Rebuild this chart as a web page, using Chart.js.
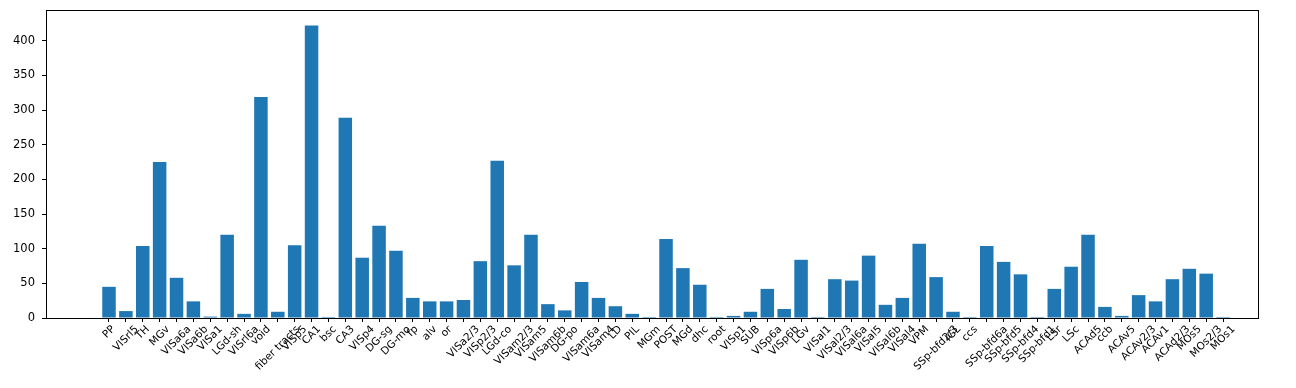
<!DOCTYPE html>
<html>
<head>
<meta charset="utf-8">
<script src="https://cdn.jsdelivr.net/npm/chart.js@4.4.1/dist/chart.umd.min.js"></script>
<style>
  html, body { margin: 0; padding: 0; background: #fff; }
  #wrap { width: 1296px; height: 388px; }
</style>
</head>
<body>
<div id="wrap"><canvas id="bar_chart" width="1296" height="388"></canvas></div>
<script>
// region names along the x axis
var regions = ["PP", "VISrl5", "TH", "MGv", "VISa6a", "VISa6b", "VISa1", "LGd-sh", "VISrl6a", "void",
    "fiber tracts", "VISp5", "CA1", "bsc", "CA3", "VISp4", "DG-sg", "DG-mo", "fp", "alv",
    "or", "VISa2/3", "VISp2/3", "LGd-co", "VISam2/3", "VISam5", "VISam6b", "DG-po", "VISam6a", "VISam4",
    "LD", "PIL", "MGm", "POST", "MGd", "dhc", "root", "VISp1", "SUB", "VISp6a",
    "VISp6b", "LGv", "VISal1", "VISal2/3", "VISal6a", "VISal5", "VISal6b", "VISal4", "VPM", "SSp-bfd2/3",
    "IGL", "ccs", "SSp-bfd6a", "SSp-bfd5", "SSp-bfd4", "SSp-bfd1", "LSr", "LSc", "ACAd5", "ccb",
    "ACAv5", "ACAv2/3", "ACAv1", "ACAd2/3", "MOs5", "MOs2/3", "MOs1"];

// counts per region
var counts = [45, 10, 104, 225, 58, 24, 2, 120, 6, 319,
    9, 105, 422, 1.5, 289, 87, 133, 97, 29, 24,
    24, 26, 82, 227, 76, 120, 20, 11, 52, 29,
    17, 6, 1.5, 114, 72, 48, 1.5, 3, 9, 42,
    13, 84, 1.5, 56, 54, 90, 19, 29, 107, 59,
    9, 1.5, 104, 81, 63, 1.5, 42, 74, 120, 16,
    3, 33, 24, 56, 71, 64, 1.5];

var yTicks = [0, 50, 100, 150, 200, 250, 300, 350, 400];

var fontFam = "'DejaVu Sans', sans-serif";

// box round the plot, like matplotlib spines
var frame = {
    id: "frame",
    afterDraw: function(chart){
        var a = chart.chartArea, c = chart.ctx;
        c.save();
        c.strokeStyle = "#000";
        c.lineWidth = 1;
        c.strokeRect(Math.round(a.left) + 0.5, Math.round(a.top) + 0.5,
            Math.round(a.right - a.left), Math.round(a.bottom - a.top));
        c.restore();
    }
};

// rotated x labels centred on their tick
var xLabels = {
    id: "xLabels",
    afterDraw: function(chart){
        var xs = chart.scales.x, c = chart.ctx;
        var base = chart.chartArea.bottom + 4 + 2;
        var fs = 10.5;
        c.save();
        c.font = fs + "px " + fontFam;
        c.fillStyle = "#000";
        c.textAlign = "center";
        c.textBaseline = "middle";
        for (var i = 0; i < regions.length; i++){
            var x = xs.getPixelForValue(i);
            var w = c.measureText(regions[i]).width;
            var bh = (w + fs) * Math.SQRT1_2;
            c.save();
            c.translate(x, base + bh / 2);
            c.rotate(-Math.PI / 4);
            c.fillText(regions[i], 0, 0);
            c.restore();
        }
        c.restore();
    }
};

var ctx = document.getElementById("bar_chart");

var data = {
    datasets: [{
        data: counts.map(function(v, i){ return {x: i, y: v}; }),
        backgroundColor: "#1f77b4",
        borderWidth: 0,
        barPercentage: 0.8,
        categoryPercentage: 1.0
    }]
};

var options = {
    responsive: false,
    animation: false,
    layout: { padding: { left: 0, right: 38, top: 10, bottom: 0 } },
    plugins: {
        legend: { display: false },
        tooltip: { enabled: false }
    },
    scales: {
        x: {
            type: "linear",
            offset: false,
            min: -3.732,
            max: 68.07,
            afterBuildTicks: function(axis){
                axis.ticks = regions.map(function(r, i){ return {value: i}; });
            },
            afterFit: function(axis){
                axis.height = 70;
                axis.paddingLeft = 0;
                axis.paddingRight = 0;
            },
            ticks: { display: false },
            grid: {
                offset: false,
                drawOnChartArea: false,
                tickLength: 4,
                tickColor: "#000",
                color: "#000"
            },
            border: { display: false }
        },
        y: {
            min: 0,
            max: 444.5,
            afterBuildTicks: function(axis){
                axis.ticks = yTicks.map(function(v){ return {value: v}; });
            },
            afterFit: function(axis){
                axis.width = 46;
                axis.paddingTop = 0;
                axis.paddingBottom = 0;
            },
            ticks: {
                color: "#000",
                padding: 7,
                font: { family: fontFam, size: 11.5 }
            },
            grid: {
                drawOnChartArea: false,
                tickLength: 4,
                tickColor: "#000",
                color: "#000"
            },
            border: { display: false }
        }
    }
};

var chart = new Chart(ctx, {
    type: "bar",
    data: data,
    options: options,
    plugins: [frame, xLabels]
});
</script>
</body>
</html>
